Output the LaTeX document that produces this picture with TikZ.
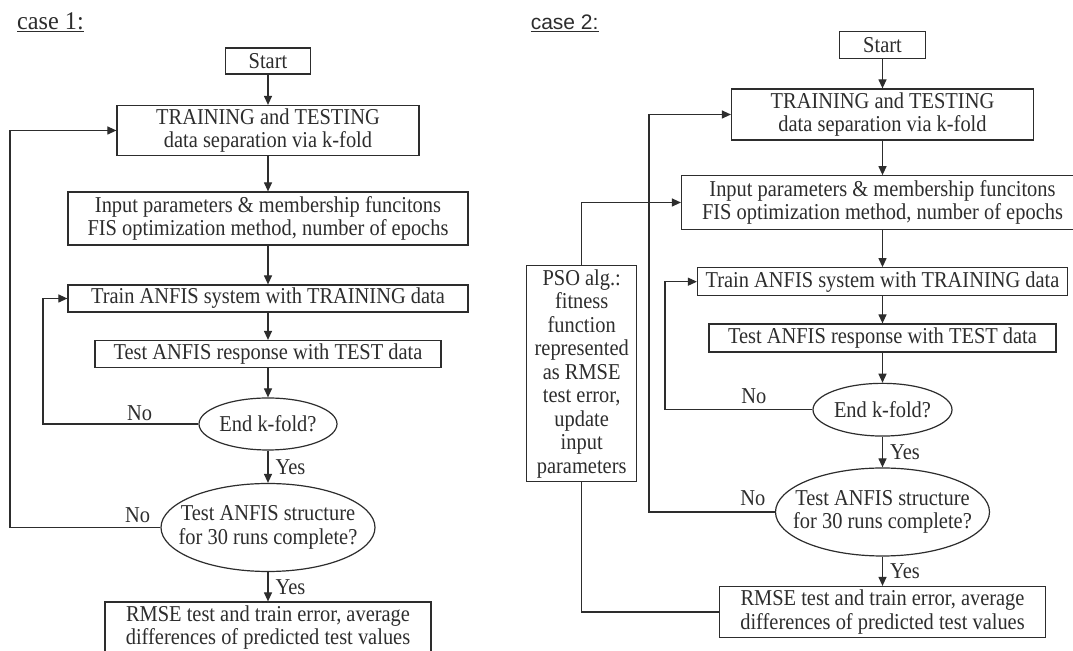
\documentclass[tikz,border=0pt]{standalone}
\usepackage{fontspec}
\setmainfont{Liberation Serif}[FakeStretch=0.9]
\newfontfamily\titleserif{Liberation Serif}[FakeStretch=0.95]
\newfontfamily\titlesans{Liberation Sans}
\usetikzlibrary{arrows.meta,shapes.geometric}
\definecolor{FlowInk}{RGB}{45,45,45}

\begin{document}
\begin{tikzpicture}[x=1bp,y=1bp]
  \path[use as bounding box] (0,0) rectangle (1073,651);
  \fill[white] (0,0) rectangle (1073,651);

  \tikzset{
    title/.style={anchor=base west,inner sep=0pt,text=FlowInk},
    procbox/.style={rectangle,draw=FlowInk,line width=1.2bp,inner sep=0pt,
      align=center,text=FlowInk,font=\fontsize{22.7bp}{23.5bp}\selectfont},
    decision/.style={procbox,ellipse,inner sep=-18bp},
    boxsize/.style 2 args={minimum width=#1bp,minimum height=#2bp},
    answer/.style={inner sep=0pt,text=FlowInk,
      font=\fontsize{22.7bp}{23.5bp}\selectfont},
    flow/.style={draw=FlowInk,line width=1.2bp,
      -{Triangle[length=9bp,width=8bp]}},
    link/.style={draw=FlowInk,line width=1.2bp},
  }

  % case 1
  \node[title,font=\titleserif\fontsize{25.5bp}{25.5bp}\selectfont] (case1)
    at (17,621.7) {\underline{case 1:}};
  \node[procbox,boxsize={85}{26}] (start1) at (268,590) {Start};
  \node[procbox,boxsize={302}{50}] (split1) at (268,520.5)
    {TRAINING and TESTING\\data separation via k-fold};
  \node[procbox,boxsize={400}{53}] (input1) at (268,432.5)
    {Input parameters \& membership funcitons\\FIS optimization method, number of epochs};
  \node[procbox,boxsize={400}{27}] (train1) at (268,352.5)
    {Train ANFIS system with TRAINING data};
  \node[procbox,boxsize={346}{27}] (test1) at (268,297)
    {Test ANFIS response with TEST data};
  \node[decision,boxsize={138}{52}] (kfold1) at (268,227) {End k-fold?};
  \node[decision,boxsize={214}{88}] (runs1) at (268,123.5)
    {Test ANFIS structure\\for 30 runs complete?};
  \node[procbox,boxsize={326}{51}] (rmse1) at (268,23.5)
    {RMSE test and train error, average\\differences of predicted test values};
  \coordinate (rail1) at (10,0);
  \coordinate (rail2) at (43,0);

  \draw[flow] (start1) -- (split1);
  \draw[flow] (split1) -- (input1);
  \draw[flow] (input1) -- (train1);
  \draw[flow] (train1) -- (test1);
  \draw[flow] (test1) -- (kfold1);
  \draw[flow] (kfold1) -- node[answer,right,xshift=7bp] (yes1a) {Yes} (runs1);
  \draw[flow] (runs1) -- node[answer,right,xshift=7bp] (yes1b) {Yes} (rmse1);
  \draw[flow] (kfold1.west) -- node[answer,above=3bp,pos=0.378] (no1a) {No}
    (kfold1.west -| rail2) |- (train1.west);
  \draw[flow] (runs1.west) -- node[answer,above=4bp,pos=0.152] (no1b) {No}
    (runs1.west -| rail1) |- (split1.west);

  % case 2
  \node[title,font=\titlesans\fontsize{21bp}{21bp}\selectfont] (case2)
    at (530.6,621) {\underline{case 2:}};
  \node[procbox,boxsize={86}{26.5}] (start2) at (882.5,606) {Start};
  \node[procbox,boxsize={302}{51}] (split2) at (882.5,536.5)
    {TRAINING and TESTING\\data separation via k-fold};
  \node[procbox,boxsize={402}{53.5}] (input2) at (882.5,448.5)
    {Input parameters \& membership funcitons\\FIS optimization method, number of epochs};
  \node[procbox,boxsize={370}{28}] (train2) at (882.5,369.3)
    {Train ANFIS system with TRAINING data};
  \node[procbox,boxsize={347}{28}] (test2) at (882.5,313)
    {Test ANFIS response with TEST data};
  \node[decision,boxsize={139}{52.7}] (kfold2) at (882.5,241.3) {End k-fold?};
  \node[decision,boxsize={214}{88}] (runs2) at (882.5,139)
    {Test ANFIS structure\\for 30 runs complete?};
  \node[procbox,boxsize={326}{51}] (rmse2) at (882.5,39)
    {RMSE test and train error, average\\differences of predicted test values};
  \node[procbox,boxsize={110}{216}] (pso) at (581.7,277.2)
    {PSO alg.:\\fitness\\function\\represented\\as RMSE\\test error,\\update\\input\\parameters};
  \coordinate (rail3) at (649,0);
  \coordinate (rail4) at (665,0);

  \draw[flow] (start2) -- (split2);
  \draw[flow] (split2) -- (input2);
  \draw[flow] (input2.south -| split2) -- (train2);
  \draw[flow] (train2) -- (test2);
  \draw[flow] (test2) -- (kfold2);
  \draw[flow] (kfold2) -- node[answer,right,xshift=7bp] (yes2a) {Yes} (runs2);
  \draw[flow] (runs2) -- node[answer,right,xshift=7bp] (yes2b) {Yes} (rmse2);
  \draw[flow] (kfold2.west) -- node[answer,above=5bp,pos=0.398] (no2a) {No}
    (kfold2.west -| rail4) |- (train2.west);
  \draw[flow] (runs2.west) -- node[answer,above=6bp,pos=0.175] (no2b) {No}
    (runs2.west -| rail3) |- (split2.west);
  \draw[link] (rmse2.west) -| (pso.south);
  \draw[flow] (pso.north) |- (input2.west);
\end{tikzpicture}
\end{document}
